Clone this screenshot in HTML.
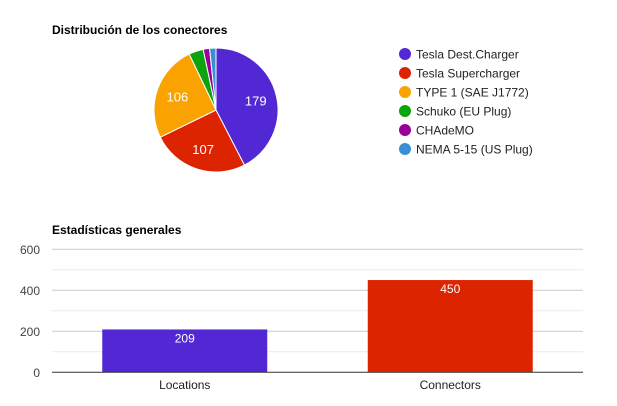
<!DOCTYPE html>
<html><head><meta charset="utf-8"><style>
body{margin:0;background:#fff;font-family:"Liberation Sans",Arial,sans-serif}
svg{display:block}
</style></head><body>
<svg width="617" height="406">
<text x="52" y="34" font-size="12" font-weight="bold" fill="#000">Distribución de los conectores</text>
<g id="pie"></g>
<g id="legend"></g>
<text x="52" y="234" font-size="12" font-weight="bold" fill="#000">Estadísticas generales</text>
<g id="bars"></g>
</svg>
<script>
const pieLabels=["Tesla Dest.Charger","Tesla Supercharger","TYPE 1 (SAE J1772)","Schuko (EU Plug)","CHAdeMO","NEMA 5-15 (US Plug)"];
const pieValues=[179,107,106,16,7,7];
const pieColors=["#5228d4","#dc2400","#f9a200","#0ca30c","#990099","#3a8fd4"];
const barCats=["Locations","Connectors"];
const barValues=[209,450];
const barColors=["#5228d4","#dc2400"];
const yTicks=[0,200,400,600];
const NS="http://www.w3.org/2000/svg";
function mk(t,a,p){const e=document.createElementNS(NS,t);for(const k in a)e.setAttribute(k,a[k]);p.appendChild(e);return e;}
const pie=document.getElementById('pie'),leg=document.getElementById('legend');
const cx=216,cy=110,r=62,tot=pieValues.reduce((a,b)=>a+b,0);
let ang=0;
pieValues.forEach((v,i)=>{
 const a0=ang,a1=ang+v/tot*2*Math.PI;ang=a1;
 const x0=cx+r*Math.sin(a0),y0=cy-r*Math.cos(a0),x1=cx+r*Math.sin(a1),y1=cy-r*Math.cos(a1);
 const p=mk('path',{d:`M${cx},${cy}L${x0},${y0}A${r},${r} 0 ${a1-a0>Math.PI?1:0} 1 ${x1},${y1}Z`,fill:pieColors[i],stroke:'#fff','stroke-width':1},pie);
 
 
 if(v/tot>0.05){const m=(a0+a1)/2;
  const t=mk('text',{x:cx+r*0.66*Math.sin(m),y:cy-r*0.66*Math.cos(m)+5,'text-anchor':'middle','font-size':13,fill:'#fff'},pie);t.textContent=v;
  
  }
 const g=mk('g',{},leg);
 
 
 const y=54+i*19;
 mk('circle',{cx:405,cy:y,r:6,fill:pieColors[i]},g);
 const t=mk('text',{x:416,y:y+4.5,'font-size':12,fill:'#222'},g);t.textContent=pieLabels[i];
});
const bars=document.getElementById('bars');
const L=52,R=583,B=372.3,T=249.3,ymax=600;
const ys=v=>B-(v/ymax)*(B-T);
for(let v=100;v<600;v+=200){mk('line',{x1:L,x2:R,y1:ys(v),y2:ys(v),stroke:'#ebebeb'},bars);}
yTicks.forEach(v=>{
 if(v>0)mk('line',{x1:L,x2:R,y1:ys(v),y2:ys(v),stroke:'#ccc'},bars);
 const t=mk('text',{x:40,y:ys(v)+4.5,'text-anchor':'end','font-size':12,fill:'#444'},bars);t.textContent=v;
 
 
});
const cw=(R-L)/barCats.length,bw=165;
barCats.forEach((c,i)=>{
 const xc=L+cw*(i+0.5),v=barValues[i];
 const b=mk('rect',{x:xc-bw/2,y:ys(v),width:bw,height:B-ys(v),fill:barColors[i]},bars);
 
 
 const t=mk('text',{x:xc,y:ys(v)+13,'text-anchor':'middle','font-size':12,fill:'#fff'},bars);t.textContent=v;
 
 
 const xl=mk('text',{x:xc,y:389,'text-anchor':'middle','font-size':12,fill:'#222'},bars);xl.textContent=c;
 
 
});
mk('line',{x1:L,x2:R,y1:B,y2:B,stroke:'#333'},bars);
</script>
</body></html>
